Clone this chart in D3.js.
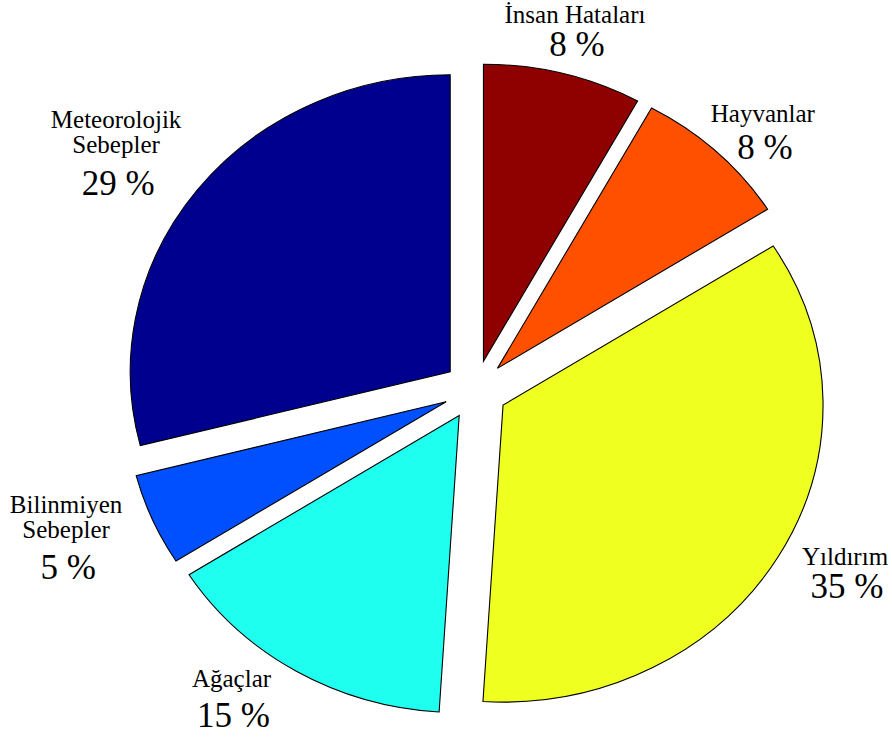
<!DOCTYPE html>
<html>
<head>
<meta charset="utf-8">
<script src="https://cdn.jsdelivr.net/npm/d3@7"></script>
<style>
  html, body { margin: 0; padding: 0; background: #fff; }
  svg { display: block; }
</style>
</head>
<body>
<svg id="chart" width="892" height="738"></svg>
<script>
// Causes of outages (percent share), clockwise from 12 o'clock
const categories = ["İnsan Hataları", "Hayvanlar", "Yıldırım", "Ağaçlar", "Bilinmiyen\nSebepler", "Meteorolojik\nSebepler"];
const shares = [8, 8, 35, 15, 5, 29];
const colors = ["#8F0000", "#FF5000", "#EFFF1F", "#1FFFEF", "#0050FF", "#00008F"];

// Layout
const cx = 475.5, cy = 390;      // pie centre
const rx = 320, ry = 297;        // pie radii (axes are not square)
const explode = 0.1;             // slice offset as a fraction of radius
const labelK = 1.2;              // label anchor radius factor
const fontFamily = "'Liberation Serif', 'Times New Roman', Tinos, 'DejaVu Serif', serif";
const nameSize = 25, pctSize = 35, nameLine = 25;
// fine placement of each label block [dx, dy] and gap to the percent line
const labelNudge = [[4, -22], [24.5, -8.5], [39, -6], [-48.5, -10], [-57, -18.5], [-56, -44]];
const pctGap = [33, 37.5, 33, 40.3, 41, 42];

const svg = d3.select("#chart");

const pie = d3.pie().sort(null).value(d => d).startAngle(0).endAngle(2 * Math.PI);
const arcs = pie(shares);

// arc drawn on a circle of radius ry, stretched horizontally to rx
const arc = d3.arc().innerRadius(0).outerRadius(ry);

const slices = svg.append("g").selectAll("g.slice")
  .data(arcs)
  .join("g")
  .attr("class", "slice")
  .attr("transform", d => {
    const mid = (d.startAngle + d.endAngle) / 2;
    const ox = Math.sin(mid) * explode * rx;
    const oy = -Math.cos(mid) * explode * ry;
    return `translate(${cx + ox},${cy + oy}) scale(${rx / ry},1)`;
  });

slices.append("path")
  .attr("d", arc)
  .attr("fill", (d, i) => colors[i])
  .attr("stroke", "#000")
  .attr("stroke-width", 1.1)
  .attr("vector-effect", "non-scaling-stroke")
  .attr("stroke-linejoin", "miter");

// labels: name line(s) and percentage
const labels = svg.append("g")
  .attr("font-family", fontFamily)
  .selectAll("g.label")
  .data(arcs)
  .join("g")
  .attr("class", "label")
  .attr("transform", (d, i) => {
    const mid = (d.startAngle + d.endAngle) / 2;
    const x = cx + Math.sin(mid) * labelK * rx + labelNudge[i][0];
    const y = cy - Math.cos(mid) * labelK * ry + labelNudge[i][1];
    return `translate(${x},${y})`;
  });

labels.each(function (d, i) {
  const g = d3.select(this);
  const lines = categories[i].split("\n");
  lines.forEach((ln, j) => {
    g.append("text")
      .attr("x", 0)
      .attr("y", j * nameLine)
      .attr("text-anchor", "middle")
      .attr("font-family", fontFamily)
      .attr("font-size", nameSize)
      .attr("fill", "#000")
      .text(ln);
  });
  g.append("text")
    .attr("x", 2)
    .attr("y", (lines.length - 1) * nameLine + pctGap[i])
    .attr("text-anchor", "middle")
    .attr("font-family", fontFamily)
    .attr("font-size", pctSize)
    .attr("fill", "#000")
    .text(`${d.data} %`);
});
</script>
</body>
</html>
